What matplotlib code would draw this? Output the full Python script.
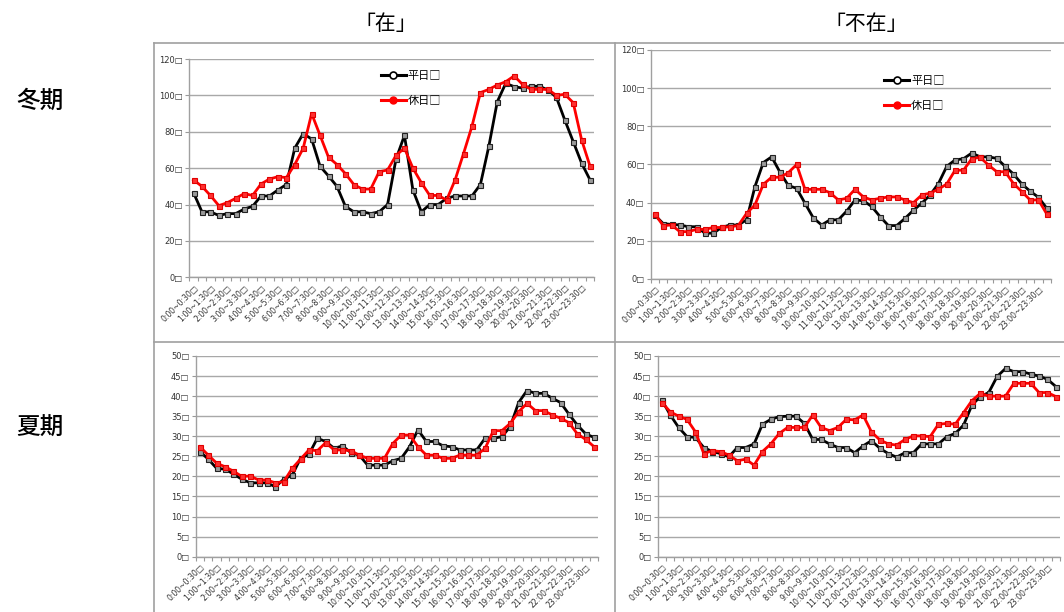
import matplotlib
matplotlib.use("Agg")
import matplotlib.pyplot as plt
from matplotlib.lines import Line2D
import numpy as np

plt.rcParams['font.family'] = ['Noto Sans CJK JP', 'DejaVu Sans']

# ---- data ----
slots = [f"{h}:{m}~{h2}:{m2}" for h in range(24) for (m, h2, m2) in (("00", h, "30"), ("30", h + 1, "00"))]
tick_labels = [f"{h}:00~{h}:30\u25a1" for h in range(24)]
ytick_top = [0, 20, 40, 60, 80, 100, 120]
ytick_bottom = [0, 5, 10, 15, 20, 25, 30, 35, 40, 45, 50]
col_titles = ["「在」", "「不在」"]
row_titles = ["冬期", "夏期"]
series_names = ["平日\u25a1", "休日\u25a1"]

winter_home_weekday = [46.5, 36, 36, 34, 35, 35, 37.5, 39, 44.7, 44.7, 48, 51, 71, 79, 76, 61,
                       55.7, 50, 39, 36, 36, 35, 36, 40, 65, 78, 48, 36, 40, 40, 43.4, 44.7,
                       44.7, 44.7, 51, 72, 96.5, 106.6, 104.8, 104, 105, 105, 103, 99, 86.5, 74.6, 62.7, 53.5]
winter_home_holiday = [53.5, 50, 45, 39.4, 41, 43.4, 46, 45, 51.3, 54, 55.3, 54.8, 62, 71, 90, 78,
                       66, 62, 57, 51, 48.5, 48.5, 58, 59, 67, 71, 60, 52, 45, 45, 42.5, 53.5,
                       68, 83, 101.5, 103.3, 105.7, 107.5, 110.7, 106, 103.3, 103.3, 103.3, 100, 100.6, 96, 75.5, 61]
winter_away_weekday = [33.5, 29, 28.6, 28.3, 27.4, 27.4, 24, 24, 27, 28.3, 28.3, 31, 48.4, 61, 64, 56,
                       49, 47.5, 39.7, 32, 28.3, 31, 31, 35.6, 41.4, 41, 38, 32.7, 28, 28, 31.8, 36,
                       39.7, 44, 50, 59, 62.4, 63, 66, 64, 64, 63.2, 59, 55, 49.8, 46, 42.8, 37]
winter_away_holiday = [34, 28, 28.3, 24.8, 24.8, 26, 26, 27, 27, 27.4, 28, 34.4, 38.8, 49.6, 53.3, 53.3,
                       55.7, 60, 47, 47, 47, 45.2, 41.4, 42.3, 47, 43, 41.4, 42.3, 43, 43, 41.4, 40,
                       44, 45, 47, 49.8, 57, 57, 63, 63.8, 59.7, 56.2, 56.2, 50, 45.8, 41.4, 41.4, 34]
summer_home_weekday = [26.2, 24.3, 22, 21.8, 20.6, 19.3, 18.4, 18.4, 18.4, 17.4, 19.3, 20.3, 24.5, 25.5, 29.5, 28.7,
                       27, 27.6, 25.9, 25.3, 22.8, 22.8, 22.8, 23.9, 24.5, 27.4, 31.6, 28.7, 28.7, 27.6, 27.4, 26.6,
                       26.6, 26.6, 29.5, 29.5, 29.9, 32.4, 38.4, 41.4, 40.7, 40.7, 39.5, 38.4, 35.5, 32.8, 30.6, 29.7]
summer_home_holiday = [27.4, 25.3, 23.3, 22.4, 21.3, 20, 20.1, 19.1, 19.1, 18.4, 18.7, 22, 24.3, 26.6, 26.4, 28.4,
                       26.6, 26.6, 26.4, 25.3, 24.5, 24.5, 24.5, 28.2, 30.3, 30.3, 27.4, 25.3, 25.3, 24.5, 24.5, 25.3,
                       25.3, 25.3, 27, 31.4, 31.4, 33.2, 36.1, 38.2, 36.4, 36.4, 35.3, 34.5, 33.4, 30.6, 29.2, 27.4]
summer_away_weekday = [39, 35.3, 32.2, 29.9, 29.7, 27.2, 26.2, 25.7, 24.9, 27.2, 27.2, 28.1, 33, 34.2, 34.9, 35,
                       35, 33.2, 29.2, 29.2, 28.1, 27.2, 27.2, 25.9, 27.6, 28.9, 27, 25.7, 24.8, 25.9, 25.9, 28.1,
                       28.1, 28.1, 29.9, 30.7, 32.8, 37.8, 39.9, 40.9, 44.9, 46.9, 46.1, 46.1, 45.5, 45, 44.2, 42.4]
summer_away_holiday = [38.4, 36.1, 35, 34.2, 31.1, 25.7, 26.4, 26.2, 25.3, 23.9, 24.3, 22.8, 26.2, 28.1, 30.7, 32.2,
                       32.2, 32.2, 35.3, 32.2, 31.4, 32.2, 34.2, 34.1, 35.3, 31.1, 29.1, 28.1, 27.8, 29.2, 30.1, 30.1,
                       29.9, 33, 33.2, 33, 35.9, 38.9, 40.7, 40, 40, 40, 43.2, 43.2, 43.2, 40.9, 40.9, 39.9]

W, H = 1064, 612
fig = plt.figure(figsize=(W / 100, H / 100), dpi=100)

def fx(px):
    return px / W

def fy(py):
    return 1 - py / H

# table grid lines
grid_c = '#a0a0a0'
fig.add_artist(Line2D([fx(154), fx(1064)], [fy(43), fy(43)], color=grid_c, lw=1.2))
fig.add_artist(Line2D([fx(154), fx(1064)], [fy(342), fy(342)], color=grid_c, lw=1.2))
fig.add_artist(Line2D([fx(154), fx(154)], [fy(43), fy(612)], color=grid_c, lw=1.2))
fig.add_artist(Line2D([fx(615), fx(615)], [fy(43), fy(612)], color=grid_c, lw=1.2))

# titles
fig.text(fx(386), fy(24), col_titles[0], ha='center', va='center', fontsize=15)
fig.text(fx(866), fy(24), col_titles[1], ha='center', va='center', fontsize=15)
fig.text(fx(40), fy(101), row_titles[0], ha='center', va='center', fontsize=17, fontweight='medium')
fig.text(fx(40), fy(428), row_titles[1], ha='center', va='center', fontsize=17, fontweight='medium')

panels = [
    # (left, top, right, bottom) px, weekday, holiday, yticks, legend position (axes fraction)
    ((189.3, 59, 594.3, 277.3), winter_home_weekday, winter_home_holiday, ytick_top, (0.46, 0.97)),
    ((650.7, 50, 1051, 279), winter_away_weekday, winter_away_holiday, ytick_top, (0.57, 0.91)),
    ((195.7, 356, 598.3, 556.7), summer_home_weekday, summer_home_holiday, ytick_bottom, None),
    ((657.7, 356, 1060, 556.7), summer_away_weekday, summer_away_holiday, ytick_bottom, None),
]

x = np.arange(len(slots))
for (l, t, r, b), wk, hol, yt, legpos in panels:
    ax = fig.add_axes([fx(l), fy(b), fx(r) - fx(l), fy(t) - fy(b)])
    ax.plot(x, wk, color='black', lw=2.0, marker='s', ms=3.6, mfc='#9a9a9a', mec='#222222', mew=0.8,
            label=series_names[0], zorder=3)
    ax.plot(x, hol, color='#ff0000', lw=2.0, marker='s', ms=3.6, mfc='#ff3030', mec='#e00000', mew=0.8,
            label=series_names[1], zorder=4)
    ax.set_xlim(-0.5, len(slots) - 0.5)
    ax.set_ylim(yt[0], yt[-1])
    ax.set_yticks(yt)
    ax.set_yticklabels([f"{v}\u25a1" for v in yt], fontsize=6, color='#333333',
                       family=['DejaVu Sans'])
    ax.set_xticks(x[::2])
    ax.set_xticklabels(tick_labels, rotation=45, ha='right', rotation_mode='anchor',
                       fontsize=5.6, color='#333333', family=['DejaVu Sans'])
    ax.set_xticks(np.arange(len(slots) + 1) - 0.5, minor=True)
    ax.tick_params(axis='x', which='major', length=0, pad=4)
    ax.tick_params(axis='x', which='minor', length=3, color='#999999', width=0.8)
    ax.tick_params(axis='y', length=3, color='#999999', width=0.8, pad=1.5)
    ax.grid(axis='y', color='#a8a8a8', lw=1.0)
    ax.set_axisbelow(True)
    for s in ('top', 'right'):
        ax.spines[s].set_visible(False)
    for s in ('left', 'bottom'):
        ax.spines[s].set_color('#a0a0a0')
        ax.spines[s].set_linewidth(1.0)
    if legpos is not None:
        h1 = Line2D([], [], color='black', lw=2.2, marker='o', ms=5, mfc='white', mec='black', mew=1.2)
        h2 = Line2D([], [], color='#ff0000', lw=2.2, marker='o', ms=5, mfc='#ff0000', mec='#ff0000')
        ax.legend([h1, h2], series_names, loc='upper left', bbox_to_anchor=legpos, frameon=False,
                  fontsize=8, handlelength=2.2, handletextpad=0.2, labelspacing=1.3, borderpad=0,
                  facecolor='white')

fig.savefig("out.png", dpi=100)
